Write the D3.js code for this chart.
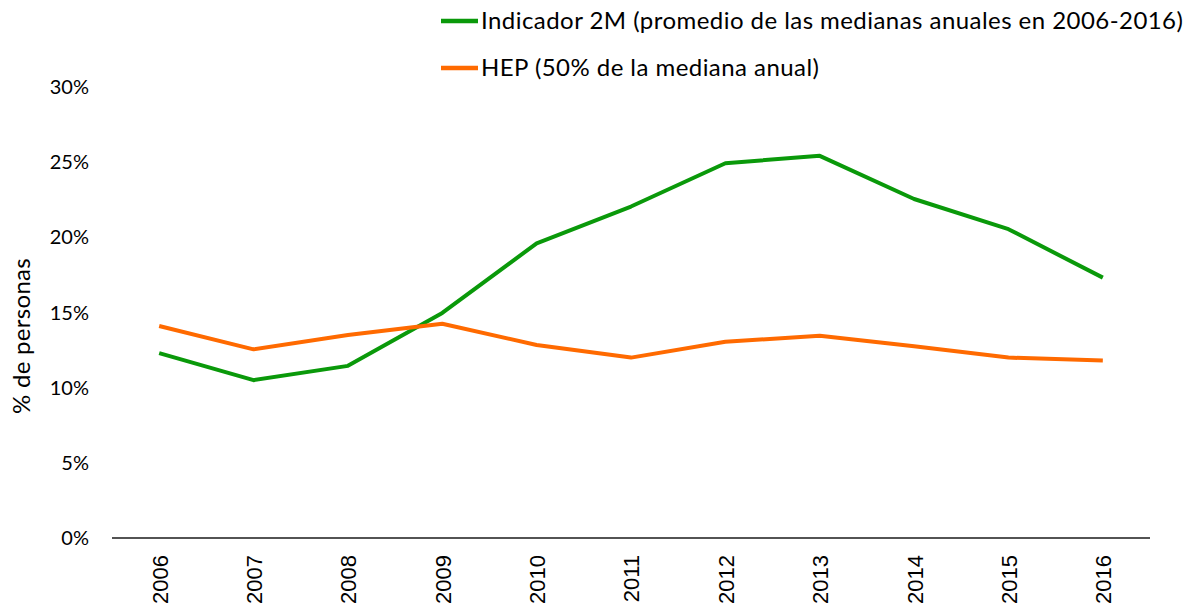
<!DOCTYPE html>
<html>
<head>
<meta charset="utf-8">
<script src="https://cdn.jsdelivr.net/npm/d3@7"></script>
<style>
  body { margin: 0; background: #fff; }
  svg { display: block; }
</style>
</head>
<body>
<div id="chart"></div>
<script>
  // data (% of people)
  var years = ["2006", "2007", "2008", "2009", "2010", "2011", "2012", "2013", "2014", "2015", "2016"];
  var indicador2M = [12.3, 10.5, 11.45, 14.97, 19.6, 22.05, 24.93, 25.42, 22.55, 20.54, 17.32];
  var hep = [14.1, 12.55, 13.5, 14.25, 12.84, 12.0, 13.05, 13.46, 12.75, 12.0, 11.8];
  var yTicks = [0, 5, 10, 15, 20, 25, 30];
  var seriesNames = ["Indicador 2M (promedio de las medianas anuales en 2006-2016)", "HEP (50% de la mediana anual)"];
  var seriesColors = ["#0a990a", "#ff6a00"];

  var width = 1195, height = 608;
  var margin = {top: 87, right: 45, bottom: 70, left: 112};

  var svg = d3.select("#chart").append("svg")
    .attr("width", width)
    .attr("height", height);

  var x = d3.scalePoint()
    .domain(years)
    .range([margin.left, width - margin.right])
    .padding(0.5);

  var y = d3.scaleLinear()
    .domain([0, 30])
    .range([height - margin.bottom, margin.top]);

  // y tick labels, no axis line
  svg.append("g")
    .selectAll("text")
    .data(yTicks)
    .enter().append("text")
      .attr("x", 89)
      .attr("y", function (d) { return y(d); })
      .attr("dy", "0.35em")
      .attr("text-anchor", "end")
      .style("font-family", "Lato, 'Open Sans', sans-serif")
      .style("font-size", "20px")
      .style("fill", "#000")
      .text(function (d) { return d + "%"; });

  // x axis: just the baseline and rotated year labels
  var xAxis = svg.append("g")
    .attr("transform", "translate(0," + y(0) + ")")
    .call(d3.axisBottom(x).tickSize(0).tickSizeOuter(0));
  xAxis.select(".domain")
    .attr("d", "M" + margin.left + ",0H" + (width - margin.right))
    .attr("stroke", "#1a1a1a")
    .attr("stroke-width", 1.5);
  xAxis.selectAll(".tick text")
    .attr("transform", "rotate(-90)")
    .attr("x", -17)
    .attr("y", 0)
    .attr("dy", "0.36em")
    .attr("text-anchor", "end")
    .style("font-family", "'Liberation Sans', Arial, sans-serif")
    .style("font-size", "22px")
    .style("fill", "#000");

  // y title
  svg.append("text")
    .attr("transform", "translate(22," + 336 + ") rotate(-90)")
    .attr("dy", "0.35em")
    .attr("text-anchor", "middle")
    .style("font-family", "Lato, 'Open Sans', sans-serif")
    .style("font-size", "24px")
    .style("letter-spacing", "0.3px")
    .style("fill", "#000")
    .text("% de personas");

  var line = d3.line()
    .x(function (d, i) { return x(years[i]); })
    .y(function (d) { return y(d); });

  var series = [indicador2M, hep];

  svg.append("g")
    .selectAll("path")
    .data(series)
    .enter().append("path")
      .attr("d", line)
      .attr("fill", "none")
      .attr("stroke", function (d, i) { return seriesColors[i]; })
      .attr("stroke-width", 4)
      .attr("stroke-linejoin", "round");

  // legend
  var legend = svg.append("g")
    .selectAll("g")
    .data(seriesNames)
    .enter().append("g")
      .attr("transform", function (d, i) { return "translate(441," + (21 + i * 47) + ")"; });
  legend.append("line")
    .attr("x1", 0).attr("x2", 37)
    .attr("stroke", function (d, i) { return seriesColors[i]; })
    .attr("stroke-width", 4.5);
  legend.append("text")
    .attr("x", 40)
    .attr("dy", "0.35em")
    .style("font-family", "Lato, 'Open Sans', sans-serif")
    .style("font-size", "24px")
    .style("letter-spacing", "0.45px")
    .style("fill", "#000")
    .text(function (d) { return d; });
</script>
</body>
</html>
